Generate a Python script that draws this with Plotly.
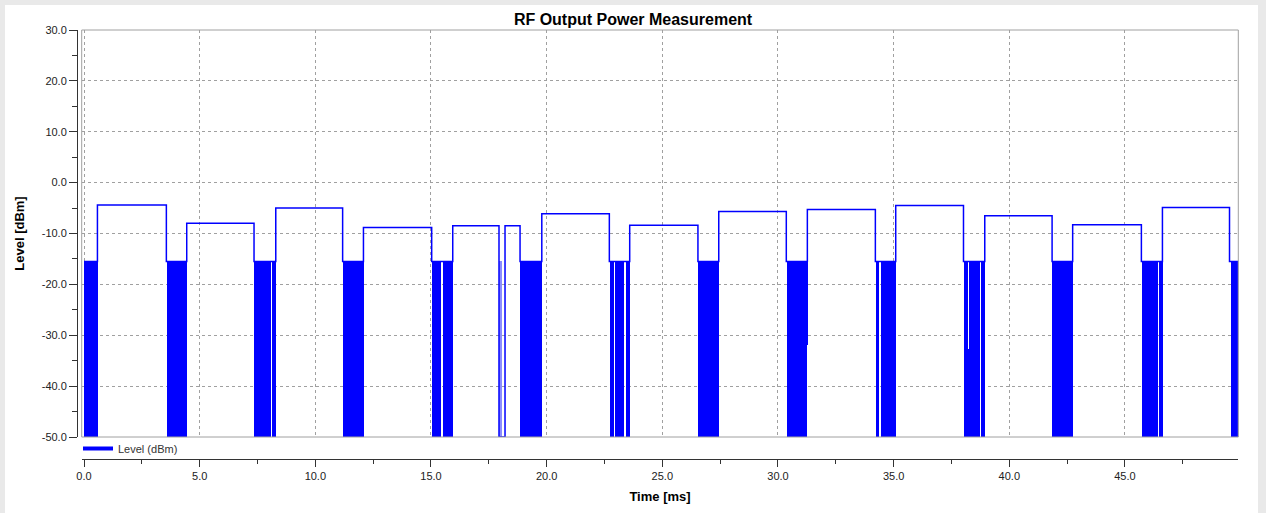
import plotly.graph_objects as go

# ---------------- data ----------------
title_text = "RF Output Power Measurement"
x_title = "Time [ms]"
y_title = "Level [dBm]"
series_name = "Level (dBm)"

# transmit bursts (ms) and their power level (dBm)
burst_start = [0.58, 4.44, 8.29, 12.08, 15.94, 18.20, 19.79, 23.59, 27.44, 31.27, 35.09, 38.94, 42.74, 46.62]
burst_end = [3.56, 7.35, 11.18, 15.03, 17.94, 18.85, 22.71, 26.54, 30.36, 34.21, 38.02, 41.85, 45.71, 49.52]
burst_level = [-4.4, -8.0, -5.0, -8.8, -8.5, -8.5, -6.1, -8.4, -5.7, -5.3, -4.5, -6.5, -8.3, -4.9]

# idle level of the trace before/between/after the bursts (dBm)
idle_level = [-15.5, -15.5, -15.5, -15.5, -15.5, -50.0, -15.5, -15.5,
              -15.5, -15.5, -15.5, -15.5, -15.5, -15.5, -15.5]
record_start = 0.0
record_end = 49.9

# densely toggling regions (signal switching between top and bottom level)
block_start = [0.00, 0.07, 3.56, 7.35, 8.10, 11.18, 15.03, 15.49, 18.85, 22.71, 22.94, 23.40,
               26.54, 30.36, 31.24, 34.21, 34.44, 38.02, 38.21, 38.26, 38.77, 41.85, 45.71,
               46.46, 46.58, 49.56]
block_end = [0.03, 0.58, 4.44, 8.05, 8.29, 12.08, 15.43, 15.94, 19.79, 22.88, 23.34, 23.59,
             27.44, 31.24, 31.27, 34.37, 35.09, 38.21, 38.26, 38.72, 38.94, 42.74, 46.40,
             46.53, 46.62, 49.90]
block_top = [-15.5, -15.5, -15.5, -15.5, -15.5, -15.5, -15.5, -15.5, -15.5, -15.5, -15.5, -15.5,
             -15.5, -15.5, -15.5, -15.5, -15.5, -15.5, -32.7, -15.5, -15.5, -15.5, -15.5,
             -15.5, -15.5, -15.5]
block_bottom = [-50.0, -50.0, -50.0, -50.0, -50.0, -50.0, -50.0, -50.0, -50.0, -50.0, -50.0, -50.0,
                -50.0, -50.0, -32.0, -50.0, -50.0, -50.0, -50.0, -50.0, -50.0, -50.0, -50.0,
                -50.0, -50.0, -50.0]

# sparsely toggling region (drawn lighter)
sparse_start = [17.94]
sparse_end = [18.04]
sparse_top = [-15.5]
sparse_bottom = [-50.0]

x_tick_vals = [0, 5, 10, 15, 20, 25, 30, 35, 40, 45]
x_tick_text = ["0.0", "5.0", "10.0", "15.0", "20.0", "25.0", "30.0", "35.0", "40.0", "45.0"]
y_tick_vals = [-50, -40, -30, -20, -10, 0, 10, 20, 30]
y_tick_text = ["-50.0", "-40.0", "-30.0", "-20.0", "-10.0", "0.0", "10.0", "20.0", "30.0"]

# ---------------- build traces ----------------
BLUE = "#0000FF"

line_x = [record_start]
line_y = [idle_level[0]]
for i, (s, e, lv) in enumerate(zip(burst_start, burst_end, burst_level)):
    line_x += [s, s, e, e]
    line_y += [idle_level[i], lv, lv, idle_level[i + 1]]
line_x.append(record_end)
line_y.append(idle_level[-1])


def bar_params(starts, ends, tops, bottoms):
    xc = [(s + e) / 2 for s, e in zip(starts, ends)]
    w = [e - s for s, e in zip(starts, ends)]
    h = [t - b for t, b in zip(tops, bottoms)]
    return xc, w, h


bx, bw, bh = bar_params(block_start, block_end, block_top, block_bottom)
sx, sw, sh = bar_params(sparse_start, sparse_end, sparse_top, sparse_bottom)

fig = go.Figure()
fig.add_trace(go.Bar(x=bx, y=bh, base=block_bottom, width=bw,
                     marker=dict(color=BLUE, line=dict(width=0)),
                     showlegend=False, hoverinfo="skip"))
fig.add_trace(go.Bar(x=sx, y=sh, base=sparse_bottom, width=sw,
                     marker=dict(color="rgba(0,0,255,0.45)", line=dict(width=0)),
                     showlegend=False, hoverinfo="skip"))
fig.add_trace(go.Scatter(x=line_x, y=line_y, mode="lines",
                         line=dict(color=BLUE, width=1.5),
                         showlegend=False, name=series_name))
# legend entry
fig.add_trace(go.Scatter(x=[None], y=[None], mode="lines",
                         line=dict(color=BLUE, width=4), name=series_name))

W, H = 1266, 513
x_dom = [81.7 / W, 1238.3 / W]
y_dom = [1 - 437 / H, 1 - 30 / H]

tick_font = dict(family="Liberation Sans, Arial, sans-serif", size=11, color="#222222")
title_font = dict(family="Liberation Sans, Arial, sans-serif", size=13, color="#000000")

fig.update_layout(
    width=W, height=H,
    margin=dict(l=0, r=0, t=0, b=0, autoexpand=False),
    paper_bgcolor="#e9e9e9",
    plot_bgcolor="#ffffff",
    barmode="overlay",
    bargap=0,
    title=dict(text="<b>" + title_text + "</b>", x=0.5, xanchor="center",
               y=1 - 19 / H, yanchor="middle", automargin=False,
               font=dict(family="Liberation Sans, Arial, sans-serif", size=16, color="#000000")),
    showlegend=True,
    legend=dict(x=78 / W, y=1 - 434 / H, xanchor="left", yanchor="top",
                bgcolor="rgba(0,0,0,0)", itemwidth=30,
                font=dict(family="Liberation Sans, Arial, sans-serif", size=11, color="#333333")),
    xaxis=dict(
        domain=x_dom, anchor="free", position=1 - 459 / H, automargin=False,
        range=[-0.1, 49.9], autorange=False,
        tickmode="array", tickvals=x_tick_vals, ticktext=x_tick_text,
        ticks="outside", ticklen=7, tickwidth=1, tickcolor="#333333",
        showline=True, linecolor="#333333", linewidth=1,
        showgrid=True, gridcolor="#a0a0a0", gridwidth=1, griddash="3px,3px",
        zeroline=False, tickfont=tick_font,
        minor=dict(tickmode="array", tickvals=[v + 2.5 for v in x_tick_vals],
                   ticks="outside", ticklen=4, tickcolor="#333333", showgrid=False),
        title=dict(text="<b>" + x_title + "</b>", font=title_font, standoff=10),
    ),
    yaxis=dict(
        domain=y_dom, anchor="free", position=77 / W, automargin=False,
        range=[-50, 30], autorange=False,
        tickmode="array", tickvals=y_tick_vals, ticktext=y_tick_text,
        ticks="outside", ticklen=8, tickwidth=1, tickcolor="#333333",
        showline=True, linecolor="#333333", linewidth=1,
        showgrid=True, gridcolor="#a0a0a0", gridwidth=1, griddash="3px,3px",
        zeroline=False, tickfont=tick_font,
        minor=dict(tickmode="array", tickvals=[v + 5 for v in y_tick_vals[:-1]],
                   ticks="outside", ticklen=5, tickcolor="#333333", showgrid=False),
        title=dict(text="<b>" + y_title + "</b>", font=title_font, standoff=13),
    ),
    shapes=[
        dict(type="rect", xref="paper", yref="paper", x0=5 / W, x1=1258 / W, y0=0, y1=1 - 5 / H,
             fillcolor="#ffffff", line=dict(width=0), layer="below"),
        dict(type="rect", xref="x domain", yref="y domain", x0=0, x1=1, y0=0, y1=1,
             line=dict(color="#a0a0a0", width=1), layer="above"),
    ],
)

fig.write_html("out.html")
